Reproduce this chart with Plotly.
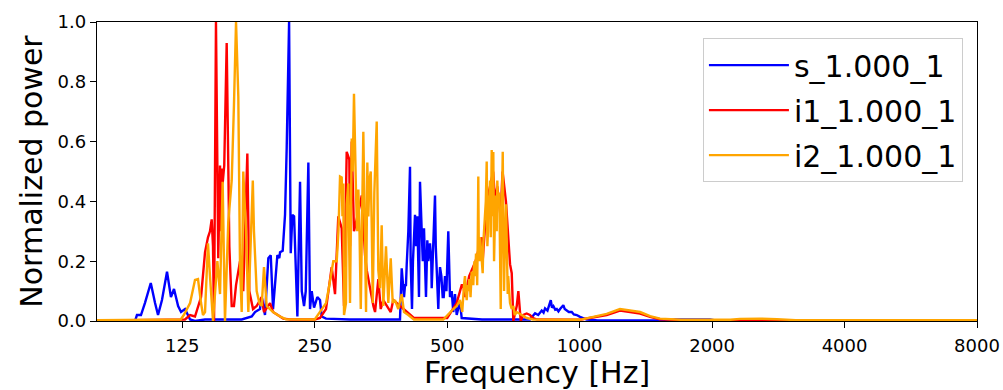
import math
import plotly.graph_objects as go

# ---- data ----
tick_vals = [125, 250, 500, 1000, 2000, 4000, 8000]
tick_text = ["125", "250", "500", "1000", "2000", "4000", "8000"]
y_ticks = [0.0, 0.2, 0.4, 0.6, 0.8, 1.0]

s_freq = [80, 97.6, 98.6, 100.7, 102.8, 106.0, 108.4, 110.1, 112.4, 115.4, 117.8, 119.7,
          122.3, 124.2, 126.8, 130.2, 133.6, 140.8, 170.6, 179.8, 182.9, 187.7, 189.4,
          192.7, 196.1, 198.6, 201.0, 205.6, 207.7, 208.5, 211.4, 214.0, 215.9, 218.6,
          220.5, 222.4, 224.4, 226.7, 228.3, 231.5, 233.6, 236.4, 238.5, 241.8, 243.9,
          246.1, 249.1, 253.4, 257.0, 259.3, 265.2, 300, 390.6, 394.1, 398.9, 401.0,
          404.6, 411.6, 415.9, 422.5, 427.6, 431.4, 433.7, 437.6, 442.9, 447.5, 450.6,
          457.0, 461.1, 469.1, 473.3, 477.3, 481.6, 488.4, 494.3, 502.9, 507.4, 511.9,
          516.2, 520.8, 525.5, 534.6, 539.4, 600, 771, 791.9, 805, 820, 828, 834.5, 845,
          859.8, 865, 871.5, 880, 887.2, 895, 902.6, 910, 918.3, 925, 934.8, 945, 959.6,
          970, 985, 1002, 1038, 1100, 1605, 1650, 1978, 2050, 8000,
          # denser readings inside the 400-510 Hz cluster
          403, 408, 413, 418, 425, 429, 436, 440, 445, 453, 460, 465, 471, 479, 485, 491,
          498, 505]
s_power = [0, 0, 0.02, 0.02, 0.06, 0.127, 0.06, 0.02, 0.07, 0.165, 0.08, 0.107,
           0.05, 0.03, 0.04, 0.005, 0.0, 0.005, 0.005, 0.015, 0.03, 0.04, 0.08,
           0.02, 0.21, 0.22, 0.04, 0.22, 0.21, 0.23, 0.235, 0.355, 0.58, 1.0,
           0.227, 0.355, 0.35, 0.1, 0.015, 0.466, 0.1, 0.05, 0.1, 0.53, 0.04,
           0.1, 0.045, 0.08, 0.07, 0.015, 0.008, 0.005, 0.005, 0.176, 0.08, 0.12,
           0.19, 0.516, 0.04, 0.355, 0.35, 0.08, 0.466, 0.25, 0.31, 0.08, 0.27,
           0.26, 0.11, 0.42, 0.16, 0.04, 0.18, 0.08, 0.15, 0.3, 0.08, 0.1,
           0.03, 0.09, 0.02, 0.065, 0.01, 0.005, 0.005, 0.026, 0.02, 0.035, 0.028, 0.042, 0.035,
           0.07, 0.045, 0.05, 0.038, 0.04, 0.032, 0.04, 0.045, 0.053, 0.04, 0.035, 0.03, 0.03,
           0.022, 0.02, 0.014, 0.005, 0.002, 0.002, 0.005, 0.005, 0.001, 0.001,
           0.12, 0.3, 0.2, 0.2, 0.25, 0.2, 0.35, 0.2, 0.2, 0.2, 0.2, 0.3, 0.25, 0.12, 0.15, 0.08,
           0.1, 0.2]

i1_freq = [80, 126.8, 130.2, 133.6, 137.9, 140.8, 143.0, 144.5, 145.8, 146.8, 147.6,
           149.1, 150.9, 152.3, 153.0, 153.6, 154.4, 155.7, 157.7, 159.9, 161.9, 163.8,
           165.6, 169.1, 172.0, 175.7, 177.5, 181.0, 184.5, 189.4, 191.7, 197.9, 201.0,
           208.5, 212, 220, 250, 257, 265.2, 273.2, 278.0, 282.8, 287.9, 291.4, 295.5,
           299.6, 300.7, 303.4, 307.0, 316.9, 319.7, 325.3, 328.2, 339.8, 342.8, 348.7,
           353.1, 357.9, 372.1, 377.1, 390.6, 404.6, 411.6, 420, 500, 525.5, 539.4,
           543.9, 548.8, 561, 580, 599.0, 602, 615, 625.6, 636, 642.2, 650, 661, 668,
           680, 688.6, 694.7, 700.9, 706.8, 719.5, 725.6, 734.8, 744.8, 758, 771, 784,
           800, 1000, 1074, 1152, 1235, 1302, 1372, 1446, 1523, 1700, 8000]
i1_power = [0.001, 0.005, 0.02, 0.015, 0.08, 0.23, 0.28, 0.3, 0.34, 0.25, 0.0,
            1.0, 0.21, 0.52, 0.3, 0.51, 0.46, 0.52, 0.93, 0.25, 0.05, 0.05,
            0.12, 0.2, 0.1, 0.56, 0.1, 0.04, 0.05, 0.08, 0.03, 0.06, 0.03,
            0.015, 0.008, 0.005, 0.005, 0.01, 0.04, 0.18, 0.09, 0.35, 0.31, 0.05, 0.566,
            0.54, 0.25, 0.6, 0.3, 0.39, 0.42, 0.22, 0.17, 0.05, 0.03, 0.14,
            0.04, 0.07, 0.03, 0.07, 0.05, 0.03, 0.02, 0.01, 0.01, 0.06, 0.12,
            0.12, 0.08, 0.15, 0.2, 0.28, 0.2, 0.4, 0.45, 0.5, 0.4, 0.45, 0.35, 0.5,
            0.4, 0.25, 0.19, 0.16, 0.0, 0.05, 0.1, 0.0, 0.02, 0.025, 0.02, 0.01,
            0.005, 0.004, 0.012, 0.02, 0.035, 0.03, 0.025, 0.014, 0.006, 0.003, 0.002]

i2_freq = [80, 124, 126, 130.2, 133.6, 135.7, 137.9, 139.3, 140.8, 143.0, 144.5, 146.8,
           150.2, 152.3, 154.4, 156.3, 159.0, 161.9, 163.8, 165.6, 167.6, 169.1, 170.6,
           172.0, 174.5, 176.6, 180.8, 181.9, 184.5, 187.1, 189.4, 191.7, 194.4, 197.9,
           201.0, 208.5, 215, 250, 257.0, 265.2, 268.4, 275.5, 280.5, 285.4, 287.9,
           290.4, 291.4, 294.4, 295.5, 298.0, 300.7, 303.4, 307.0, 310.3, 314.1, 318.1,
           322.4, 327.0, 329.2, 332.7, 335.2, 338.7, 341.5, 345.8, 348.7, 351.8, 354.9,
           357.9, 363.0, 367.4, 372.1, 376.0, 380.5, 387.1, 394.1, 398.9, 408.0, 420,
           490, 507.4, 516.2, 525.5, 534.6, 541, 548.8, 553.7, 557, 561.3, 565, 568.4,
           573.2, 577, 581.4, 585, 588.4, 592, 595.8, 602.1, 606, 609.4, 614.9, 617, 620.0,
           625.6, 628, 631.2, 636.5, 639, 642.2, 646, 650.0, 656.8, 661.7, 665, 668.7,
           673.3, 677, 680.4, 686.4, 690, 694.7, 700.9, 706.8, 712, 719.5, 738.6, 758.2,
           783.6, 1000, 1074, 1152, 1235, 1302, 1372, 1446, 1523, 1700, 2200, 2314, 2570,
           2809, 3100, 8000,
           # denser readings inside the 280-330 Hz and 540-690 Hz clusters
           283, 289, 305, 312, 316, 320, 325, 331, 337,
           543, 546, 551, 559, 563, 571, 575, 579, 583, 587, 590, 594, 598, 604, 612, 619,
           623, 633, 641, 644, 648, 653, 659, 663, 671, 675, 679, 683, 688, 692]
i2_power = [0.003, 0.005, 0.02, 0.06, 0.137, 0.14, 0.06, 0.02, 0.03, 0.26, 0.15, 0.0,
            0.2, 0.09, 0.466, 0.0, 0.33, 0.47, 0.72, 1.0, 0.75, 0.18, 0.03,
            0.5, 0.3, 0.03, 0.47, 0.3, 0.1, 0.06, 0.05, 0.18, 0.05, 0.04,
            0.03, 0.015, 0.006, 0.005, 0.03, 0.06, 0.1, 0.2, 0.2, 0.483, 0.48,
            0.46, 0.02, 0.06, 0.39, 0.46, 0.06, 0.61, 0.76, 0.43, 0.44, 0.04,
            0.633, 0.03, 0.53, 0.47, 0.5, 0.06, 0.43, 0.667, 0.17, 0.11, 0.32,
            0.05, 0.25, 0.06, 0.21, 0.06, 0.07, 0.04, 0.09, 0.03, 0.02, 0.005,
            0.005, 0.03, 0.04, 0.05, 0.07, 0.03, 0.15, 0.07, 0.12, 0.14, 0.08, 0.165,
            0.12, 0.2, 0.226, 0.12, 0.483, 0.2, 0.25, 0.16, 0.3, 0.36, 0.533, 0.25, 0.42,
            0.47, 0.28, 0.572, 0.565, 0.2, 0.31, 0.38, 0.47, 0.43, 0.04, 0.3, 0.566,
            0.1, 0.25, 0.39, 0.09, 0.12, 0.06, 0.04, 0.05, 0.02, 0.03, 0.02, 0.01,
            0.005, 0.004, 0.014, 0.024, 0.04, 0.036, 0.03, 0.016, 0.008, 0.004, 0.004, 0.007, 0.008,
            0.006, 0.003, 0.003,
            0.3, 0.35, 0.5, 0.3, 0.3, 0.35, 0.3, 0.35, 0.3,
            0.09, 0.12, 0.1, 0.1, 0.13, 0.14, 0.18, 0.15, 0.2, 0.3, 0.22, 0.28, 0.2, 0.26, 0.4, 0.3,
            0.38, 0.35, 0.3, 0.42, 0.3, 0.38, 0.3, 0.2, 0.3, 0.2, 0.3, 0.25, 0.15, 0.1]


def ordered(freqs, powers):
    pairs = sorted(zip(freqs, powers), key=lambda p: p[0])
    return [p[0] for p in pairs], [p[1] for p in pairs]


series = [
    ("s_1.000_1", s_freq, s_power, "#0000ff"),
    ("i1_1.000_1", i1_freq, i1_power, "#ff0000"),
    ("i2_1.000_1", i2_freq, i2_power, "#ffa500"),
]

FONT = "DejaVu Sans"
fig = go.Figure()
for name, fx, fy, col in series:
    xs, ys = ordered(fx, fy)
    fig.add_trace(go.Scatter(x=xs, y=ys, mode="lines", name=name, legendgroup=name,
                             line=dict(color=col, width=2.4)))

axis_common = dict(showline=True, linecolor="black", linewidth=1.3, mirror=True,
                   ticks="outside", ticklen=6, tickwidth=1.3, tickcolor="black",
                   showgrid=False, zeroline=False, automargin=False,
                   tickfont=dict(family=FONT, size=18, color="black"))

fig.update_layout(
    width=1003, height=390,
    margin=dict(l=97, r=26, t=22, b=69),
    paper_bgcolor="white", plot_bgcolor="white",
    font=dict(family=FONT, color="black"),
    xaxis=dict(type="log", range=[math.log10(80), math.log10(8000)],
               tickvals=tick_vals, ticktext=tick_text, ticklabelstandoff=2,
               title=dict(text="Frequency [Hz]", font=dict(family=FONT, size=30), standoff=12),
               **axis_common),
    yaxis=dict(range=[0, 1], tickvals=y_ticks, tickformat=".1f",
               title=dict(text="Normalized power", font=dict(family=FONT, size=30), standoff=6),
               **axis_common),
    legend=dict(x=0.984, y=0.946, xanchor="right", yanchor="top",
                bgcolor="white", bordercolor="#cccccc", borderwidth=1,
                font=dict(family=FONT, size=30), tracegroupgap=3, itemwidth=80),
    showlegend=True,
)

fig.write_html("out.html")
